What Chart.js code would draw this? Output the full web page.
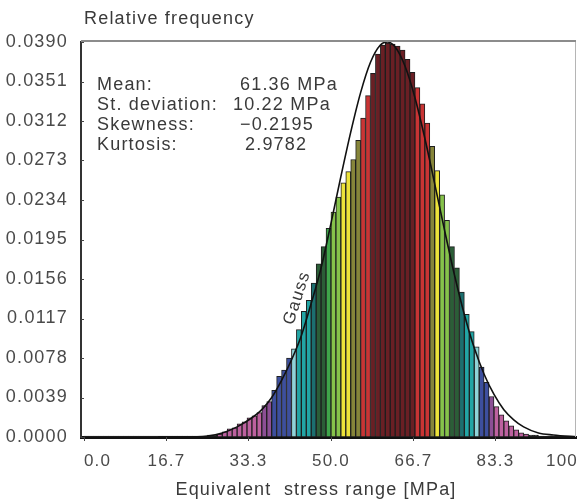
<!DOCTYPE html>
<html>
<head>
<meta charset="utf-8">
<script src="https://cdn.jsdelivr.net/npm/chart.js@4.4.0/dist/chart.umd.min.js"></script>
<style>
  html, body { margin: 0; padding: 0; background: #fff; }
  canvas { display: block; }
</style>
</head>
<body>
<canvas id="chart" width="577" height="504"></canvas>
<script>
// histogram: 1 MPa bins, relative frequency
const binCenters = Array.from({ length: 100 }, (_, i) => i + 0.5);
const relFreq = [
  0.0001, 0.0001, 0.0001, 0.0001, 0.0001, 0.0001, 0.0001, 0.0001, 0.0001, 0.0001,
  0.0001, 0.0001, 0.0001, 0.0001, 0.0001, 0.0001, 0.0001, 0.0001, 0.0001, 0.0001,
  0.0001, 0.0001, 0.0001, 0.0001, 0.0001, 0.0002, 0.0002, 0.0003, 0.0005, 0.0008,
  0.0009, 0.0013, 0.0015, 0.0019, 0.0021, 0.0024, 0.0031, 0.0035, 0.0046, 0.0060,
  0.0066, 0.0078, 0.0087, 0.0106, 0.0124, 0.0135, 0.0152, 0.0171, 0.0188, 0.0206,
  0.0222, 0.0237, 0.0251, 0.0262, 0.0274, 0.0293, 0.0315, 0.0337, 0.0359, 0.0378,
  0.0387, 0.0389, 0.0388, 0.0386, 0.0382, 0.0373, 0.0360, 0.0345, 0.0329, 0.0310,
  0.0287, 0.0263, 0.0239, 0.0214, 0.0188, 0.0167, 0.0143, 0.0121, 0.0104, 0.0089,
  0.0069, 0.0054, 0.0040, 0.0030, 0.0022, 0.0016, 0.0011, 0.0007, 0.0004, 0.0003,
  0.0002, 0.0002, 0.0001, 0.0001, 0.0001, 0.0001, 0.0001, 0.0001, 0.0001, 0.0001
];

// "Gauss" curve as drawn
const gaussX = [15, 20, 25, 28, 31, 34, 36, 38, 40, 42, 44, 46, 48, 50, 52, 54, 56, 58, 60, 61.4,
  63, 65, 67, 69, 71, 73, 75, 77, 79, 81, 83, 85, 87, 89, 92, 95, 100];
const gaussY = [0, 0, 0.0001, 0.0004, 0.0010, 0.0019, 0.0027, 0.0039, 0.0056, 0.0076, 0.0100,
  0.0132, 0.0167, 0.0211, 0.0257, 0.0301, 0.0340, 0.0370, 0.0387, 0.0390,
  0.0385, 0.0366, 0.0335, 0.0295, 0.0250, 0.0204, 0.0160, 0.0121, 0.0088, 0.0062,
  0.0042, 0.0027, 0.0017, 0.0010, 0.0004, 0.0002, 0];

const xTicks = [0, 16.7, 33.3, 50, 66.7, 83.3, 100];
const xTickLabels = ['0.0', '16.7', '33.3', '50.0', '66.7', '83.3', '100'];
const yTicks = [0, 0.0039, 0.0078, 0.0117, 0.0156, 0.0195, 0.0234, 0.0273, 0.0312, 0.0351, 0.039];
const yTickLabels = ['0.0000', '0.0039', '0.0078', '0.0117', '0.0156', '0.0195', '0.0234', '0.0273', '0.0312', '0.0351', '0.0390'];

const statLabels = ['Mean:', 'St. deviation:', 'Skewness:', 'Kurtosis:'];
const statValues = ['61.36 MPa', '10.22 MPa', '\u22120.2195', '2.9782'];

const FONT = "'Liberation Sans', Arial, sans-serif";
const SPACING = '1.2px'; // the figure's lettering is a little wide

// bar colour by height (colour scale of the figure)
function barColor(v) {
  if (v < 0.00025) return '#222';
  if (v <= 0.0030) return '#bd619f';
  if (v <= 0.0045) return '#8c4f95';
  if (v <= 0.0082) return '#3d4f9e';
  if (v <= 0.0102) return '#8fd3d8';
  if (v <= 0.0135) return '#22a5a5';
  if (v <= 0.0155) return '#1c6f6f';
  if (v <= 0.0190) return '#2b5e37';
  if (v <= 0.0212) return '#3fa54a';
  if (v <= 0.0243) return '#86c24a';
  if (v <= 0.0268) return '#ece23a';
  if (v <= 0.0300) return '#86853a';
  if (v <= 0.0345) return '#c93434';
  return '#6a1f24';
}

const extras = {
  id: 'extras',
  beforeDraw(chart) {
    chart.ctx.letterSpacing = SPACING;
  },
  afterDraw(chart) {
    const { ctx, chartArea: a, scales: { x, y } } = chart;
    ctx.save();
    ctx.letterSpacing = SPACING;
    // frame top / right
    ctx.strokeStyle = '#8c8c8c';
    ctx.lineWidth = 2;
    ctx.beginPath();
    ctx.moveTo(a.left, a.top - 1);
    ctx.lineTo(a.right, a.top - 1);
    ctx.stroke();
    ctx.strokeStyle = '#b5b5b5';
    ctx.lineWidth = 1;
    ctx.beginPath();
    ctx.moveTo(a.right - 0.5, a.top);
    ctx.lineTo(a.right - 0.5, a.bottom);
    ctx.stroke();
    // small tick marks
    ctx.strokeStyle = '#444';
    ctx.lineWidth = 1;
    yTicks.forEach(v => {
      const py = Math.round(y.getPixelForValue(v)) + 0.5;
      ctx.beginPath();
      ctx.moveTo(a.left, py);
      ctx.lineTo(a.left + 3, py);
      ctx.stroke();
    });
    xTicks.forEach(v => {
      const px = Math.round(x.getPixelForValue(v)) + 0.5;
      ctx.beginPath();
      ctx.moveTo(px, a.bottom);
      ctx.lineTo(px, a.bottom + 4);
      ctx.stroke();
    });
    // texts
    ctx.fillStyle = '#3a3a3a';
    ctx.textBaseline = 'middle';
    ctx.textAlign = 'left';
    ctx.font = '18px ' + FONT;
    ctx.fillText('Relative frequency', 84, 19);
    ctx.textAlign = 'center';
    ctx.fillText('Equivalent  stress range [MPa]', 316, 490);
    ctx.textAlign = 'left';
    const rowY = [85, 105, 125, 145];
    const valX = [240, 233, 240, 245];
    statLabels.forEach((t, i) => {
      ctx.fillText(t, 97, rowY[i]);
      ctx.fillText(statValues[i], valX[i], rowY[i]);
    });
    ctx.translate(297, 298);
    ctx.rotate(-72 * Math.PI / 180);
    ctx.textAlign = 'center';
    ctx.font = '17px ' + FONT;
    ctx.fillText('Gauss', 0, 0);
    ctx.restore();
  }
};

new Chart(document.getElementById('chart'), {
  type: 'bar',
  data: {
    datasets: [
      {
        type: 'line',
        label: 'Gauss',
        data: gaussX.map((v, i) => ({ x: v, y: gaussY[i] })),
        borderColor: '#111',
        borderWidth: 1.6,
        pointRadius: 0,
        cubicInterpolationMode: 'monotone',
        fill: false,
        order: 0
      },
      {
        type: 'bar',
        label: 'Relative frequency',
        data: binCenters.map((v, i) => ({ x: v, y: relFreq[i] })),
        backgroundColor: relFreq.map(barColor),
        borderColor: '#1e1e1e',
        borderWidth: 1,
        borderSkipped: false,
        barPercentage: 1,
        categoryPercentage: 1,
        order: 1
      }
    ]
  },
  options: {
    responsive: false,
    animation: false,
    layout: { padding: { top: 42, right: 1, left: 0, bottom: 0 } },
    plugins: { legend: { display: false }, tooltip: { enabled: false } },
    scales: {
      x: {
        type: 'linear',
        offset: false,
        min: -0.6,
        max: 99.6,
        grid: { display: false, drawTicks: false },
        border: { display: true, color: '#111', width: 3 },
        afterBuildTicks: s => { s.ticks = xTicks.map(v => ({ value: v })); },
        afterFit: s => { s.height = 67; s.paddingLeft = 0; s.paddingRight = 0; },
        ticks: {
          align: 'inner',
          padding: 14,
          color: '#4a4a4a',
          font: { family: FONT, size: 17 },
          callback: (v, i) => xTickLabels[i]
        }
      },
      y: {
        min: 0,
        max: 0.039,
        grid: { display: false, drawTicks: false },
        border: { display: true, color: '#333', width: 2 },
        afterBuildTicks: s => { s.ticks = yTicks.map(v => ({ value: v })); },
        afterFit: s => { s.width = 81; s.paddingTop = 0; s.paddingBottom = 0; },
        ticks: {
          padding: 13,
          color: '#4a4a4a',
          font: { family: FONT, size: 18 },
          callback: (v, i) => yTickLabels[i]
        }
      }
    }
  },
  plugins: [extras]
});
</script>
</body>
</html>
